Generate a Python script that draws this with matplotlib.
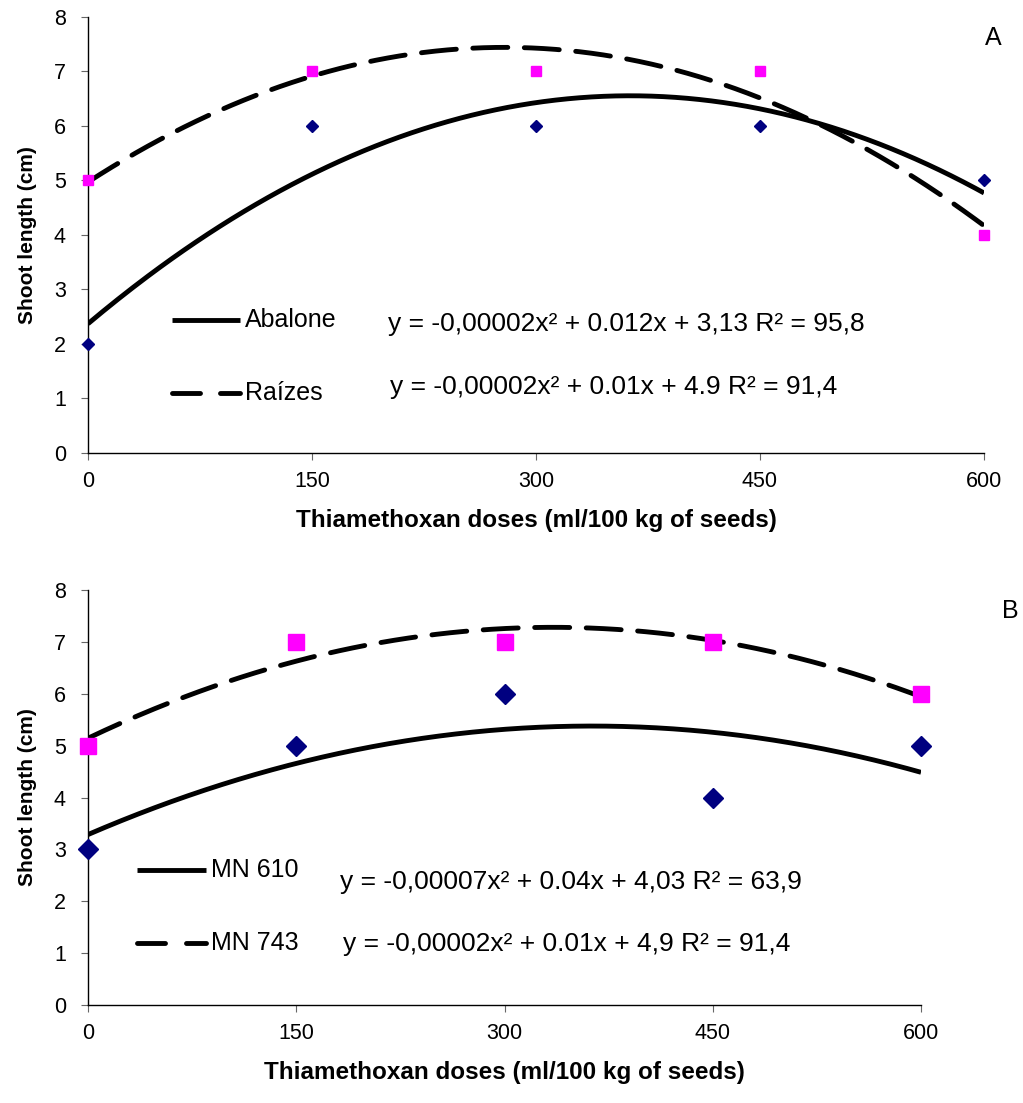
import numpy as np
import matplotlib
matplotlib.use("Agg")
import matplotlib.pyplot as plt
from matplotlib.lines import Line2D

plt.rcParams['font.family'] = ['Liberation Sans', 'DejaVu Sans']

doses = [0, 150, 300, 450, 600]

# panel A
abalone = [2, 6, 6, 6, 5]
raizes = [5, 7, 7, 7, 4]
# panel B
mn610 = [3, 5, 6, 4, 5]
mn743 = [5, 7, 7, 7, 6]

eq_a = ["y = -0,00002x² + 0.012x + 3,13 R² = 95,8",
        "y = -0,00002x² + 0.01x + 4.9 R² = 91,4"]
eq_b = ["y = -0,00007x² + 0.04x + 4,03 R² = 63,9",
        "y = -0,00002x² + 0.01x + 4,9 R² = 91,4"]

W, H = 1023, 1103
fig = plt.figure(figsize=(W / 100, H / 100), dpi=100)

NAVY = '#000080'
MAGENTA = '#FF00FF'
LW = 3.5
DASH = (7.2, 3.4)
TXT = 18
EQ = 19


def px_axes(left, top, right, bottom):
    return fig.add_axes([left / W, 1 - bottom / H, (right - left) / W, (bottom - top) / H])


def fx(x):
    return x / W


def fy(y):
    return 1 - y / H


def draw_panel(ax, s1, s2, ms_d, ms_s):
    xs = np.array(doses, dtype=float)
    xx = np.linspace(0, 600, 300)
    c1 = np.polyfit(xs, s1, 2)
    c2 = np.polyfit(xs, s2, 2)
    ax.plot(xx, np.polyval(c1, xx), color='black', lw=LW, solid_capstyle='butt')
    ax.plot(xx, np.polyval(c2, xx), color='black', lw=LW, dashes=DASH, dash_capstyle='round')
    ax.plot(doses, s1, 'D', color=NAVY, ms=ms_d, mec=NAVY, clip_on=False, zorder=5)
    ax.plot(doses, s2, 's', color=MAGENTA, ms=ms_s, mec=MAGENTA, clip_on=False, zorder=5)
    ax.set_xlim(0, 600)
    ax.set_ylim(0, 8)
    ax.set_xticks(doses)
    ax.set_yticks(range(9))
    for s in ['top', 'right']:
        ax.spines[s].set_visible(False)
    ax.spines['left'].set_linewidth(1.0)
    ax.spines['bottom'].set_linewidth(1.0)
    ax.tick_params(axis='x', direction='out', length=5, width=0.8, pad=8, labelsize=15.5, color='#666666')
    ax.tick_params(axis='y', direction='out', length=5, width=0.8, pad=11, labelsize=15.5, color='#666666')
    ax.set_xlabel('Thiamethoxan doses (ml/100 kg of seeds)', fontsize=17.5, fontweight='bold', labelpad=12)
    ax.set_ylabel('Shoot length (cm)', fontsize=15, fontweight='bold', labelpad=12)


def legend_item(x0, x1, y, label, dashed):
    kw = dict(color='black', lw=LW, transform=fig.transFigure)
    if dashed:
        fig.add_artist(Line2D([fx(x0), fx(x0 + 28)], [fy(y), fy(y)], solid_capstyle='round', **kw))
        fig.add_artist(Line2D([fx(x1 - 20), fx(x1)], [fy(y), fy(y)], solid_capstyle='round', **kw))
    else:
        fig.add_artist(Line2D([fx(x0), fx(x1)], [fy(y), fy(y)], solid_capstyle='butt', **kw))
    fig.text(fx(x1 + 5), fy(y), label, fontsize=TXT, va='center', ha='left')


axA = px_axes(88, 17, 984, 453)
draw_panel(axA, abalone, raizes, 6.5, 7)
legend_item(172, 240, 320, 'Abalone', False)
legend_item(172, 240, 393, 'Raízes', True)
fig.text(fx(388), fy(324), eq_a[0], fontsize=EQ, va='center', ha='left')
fig.text(fx(390), fy(387), eq_a[1], fontsize=EQ, va='center', ha='left')
fig.text(fx(993), fy(38), 'A', fontsize=TXT, va='center', ha='center')

axB = px_axes(88, 590, 921, 1005)
draw_panel(axB, mn610, mn743, 10, 11)
legend_item(137, 206, 870, 'MN 610', False)
legend_item(137, 206, 943, 'MN 743', True)
fig.text(fx(340), fy(882), eq_b[0], fontsize=EQ, va='center', ha='left')
fig.text(fx(343), fy(944), eq_b[1], fontsize=EQ, va='center', ha='left')
fig.text(fx(1010), fy(611), 'B', fontsize=TXT, va='center', ha='center')

fig.savefig('out.png', dpi=100)
